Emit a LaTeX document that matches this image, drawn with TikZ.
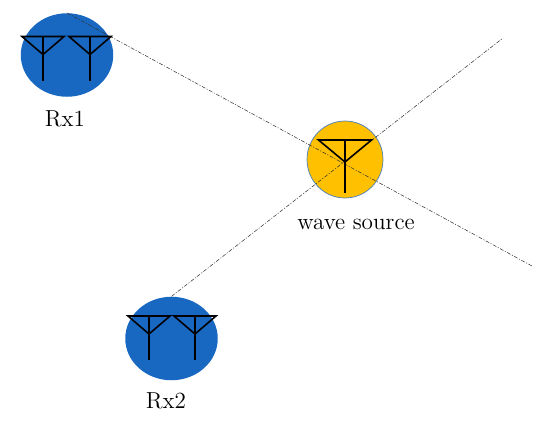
\documentclass[tikz,border=0pt]{standalone}
\usepackage{tikz}
\usetikzlibrary{shapes.geometric}

\definecolor{rxblue}{HTML}{1868C2}
\definecolor{srcamber}{HTML}{FFC000}
\definecolor{srcedge}{HTML}{4A7EBB}

\begin{document}
\begin{tikzpicture}[
  x=0.02cm, y=-0.02cm,
  every node/.style={font=\fontsize{13.2}{15}\selectfont, inner sep=0pt},
  rxnode/.style={ellipse, fill=rxblue, minimum width=1.85cm, minimum height=1.67cm},
  srcnode/.style={ellipse, fill=srcamber, draw=srcedge, thin, minimum width=1.52cm, minimum height=1.54cm},
  ray/.style={draw=black!80, line width=0.3pt, dash pattern=on 2.2pt off 0.9pt on 0.6pt off 0.9pt},
  ant/.style={draw=black, line width=0.9pt},
  antenna/.pic={
    \draw[ant] (-21,0) -- (21,0) -- (0,18) -- cycle;
    \draw[ant] (0,0) -- (0,44);
  },
  bigantenna/.pic={
    \draw[ant] (-26.5,0) -- (26.5,0) -- (0,22) -- cycle;
    \draw[ant] (0,0) -- (0,53);
  }
]
\useasboundingbox (0,0) rectangle (550,424);

% Stations
\node[rxnode] (rx1) at (67,55) {};
\node[rxnode] (rx2) at (171.5,338.5) {};
\node[srcnode] (src) at (345,159.5) {};

% Free ends of the rays
\coordinate (end1) at (532,266);
\coordinate (end2) at (503,38);

% Rays
\draw[ray] (rx1.north) -- (end1);
\draw[ray] (rx2.north) -- (end2);

% Antennas
\pic at (43,36.5) {antenna};
\pic at (90,36.5) {antenna};
\pic at (149,316) {antenna};
\pic at (195,316) {antenna};
\pic at (345,140) {bigantenna};

% Labels
\node (rx1lbl) at (65,119) {Rx1};
\node (srclbl) at (356,224) {wave source};
\node (rx2lbl) at (166,401) {Rx2};
\end{tikzpicture}
\end{document}
